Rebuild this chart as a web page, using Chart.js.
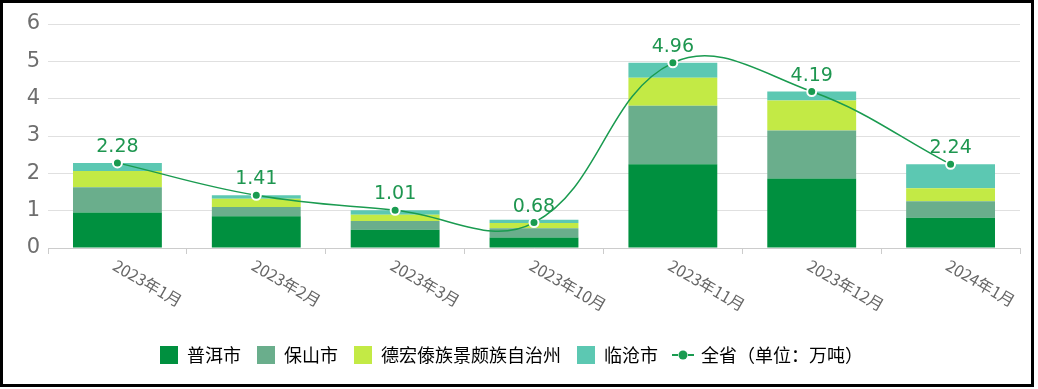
<!DOCTYPE html>
<html>
<head>
<meta charset="utf-8">
<script src="https://cdn.jsdelivr.net/npm/chart.js@4/dist/chart.umd.min.js"></script>
<style>
  html, body { margin: 0; padding: 0; background: #fff; }
  #box {
    position: absolute; left: 0; top: 0;
    width: 1028px; height: 381px;
    border: 3px solid #000;
  }
</style>
</head>
<body>
<div id="box"><canvas id="c" width="1028" height="381"></canvas></div>
<script>
// 月份 + 各州市产量（万吨）
const months = ['2023年1月', '2023年2月', '2023年3月', '2023年10月', '2023年11月', '2023年12月', '2024年1月'];
const puer    = [0.95, 0.85, 0.49, 0.28, 2.24, 1.86, 0.81];
const baoshan = [0.68, 0.25, 0.23, 0.25, 1.57, 1.29, 0.44];
const dehong  = [0.43, 0.22, 0.17, 0.14, 0.75, 0.80, 0.35];
const lincang = [0.22, 0.09, 0.12, 0.09, 0.40, 0.24, 0.64];
const total   = [2.28, 1.41, 1.01, 0.68, 4.96, 4.19, 2.24];
const yMax = 6;
const yStep = 1;

const GREEN_LINE = '#1a9b50';

Chart.defaults.font.family = '"Noto Sans CJK SC", "Noto Sans", sans-serif';
Chart.defaults.animation = false;

// 图例里折线的小图标 -●-
function lineIcon() {
  const c = document.createElement('canvas');
  c.width = 24; c.height = 18;
  const g = c.getContext('2d');
  g.strokeStyle = GREEN_LINE;
  g.lineWidth = 2;
  g.beginPath();
  g.moveTo(1, 9); g.lineTo(7, 9);
  g.moveTo(17, 9); g.lineTo(23, 9);
  g.stroke();
  g.fillStyle = GREEN_LINE;
  g.beginPath();
  g.arc(12, 9, 4.5, 0, Math.PI * 2);
  g.fill();
  return c;
}
const icon = lineIcon();

// 斜着的 x 轴标签（往右下方向）
const xLabelPlugin = {
  id: 'xLabels',
  afterDraw(chart) {
    const { ctx, scales: { x } } = chart;
    ctx.save();
    ctx.font = '16px "Noto Sans CJK SC"';
    ctx.fillStyle = '#666';
    ctx.textAlign = 'left';
    ctx.textBaseline = 'top';
    months.forEach((m, i) => {
      ctx.save();
      ctx.translate(x.getPixelForValue(i) + 1, x.top + 9);
      ctx.rotate(Math.PI / 6);
      ctx.fillText(m, 0, 0);
      ctx.restore();
    });
    ctx.restore();
  }
};

// 折线点上方的数值
const valueLabelPlugin = {
  id: 'valueLabels',
  afterDatasetsDraw(chart) {
    const { ctx } = chart;
    const meta = chart.getDatasetMeta(4);
    ctx.save();
    ctx.font = '19px "DejaVu Sans"';
    ctx.fillStyle = '#1e9650';
    ctx.textAlign = 'center';
    ctx.textBaseline = 'alphabetic';
    meta.data.forEach((p, i) => {
      ctx.fillText(total[i].toFixed(2), p.x, p.y - 11);
    });
    ctx.restore();
  }
};

const barStyle = { stack: 'city', order: 1, barPercentage: 0.64, categoryPercentage: 1, borderWidth: 0 };

new Chart(document.getElementById('c'), {
  type: 'bar',
  data: {
    labels: months,
    datasets: [
      { label: '普洱市', data: puer, backgroundColor: '#00903f', ...barStyle },
      { label: '保山市', data: baoshan, backgroundColor: '#6aae8c', ...barStyle },
      { label: '德宏傣族景颇族自治州', data: dehong, backgroundColor: '#c3ea45', ...barStyle },
      { label: '临沧市', data: lincang, backgroundColor: '#5cc8b2', ...barStyle },
      {
        type: 'line',
        label: '全省（单位：万吨）',
        data: total,
        stack: 'total',
        order: 0,
        borderColor: GREEN_LINE,
        borderWidth: 1.5,
        tension: 0.4,
        pointRadius: 4.5,
        pointBackgroundColor: GREEN_LINE,
        pointBorderColor: '#fff',
        pointBorderWidth: 2,
        fill: false
      }
    ]
  },
  options: {
    responsive: false,
    layout: { padding: { top: 21, right: 11, left: 0, bottom: 10 } },
    plugins: {
      tooltip: { enabled: false },
      legend: {
        position: 'bottom',
        labels: {
          usePointStyle: true,
          pointStyleWidth: 18,
          boxHeight: 18,
          padding: 16,
          color: '#555',
          font: { size: 18 },
          generateLabels: chart => chart.data.datasets.map((ds, i) => ({
            text: ds.label,
            fillStyle: ds.type === 'line' ? GREEN_LINE : ds.backgroundColor,
            strokeStyle: ds.type === 'line' ? GREEN_LINE : ds.backgroundColor,
            lineWidth: 0,
            pointStyle: ds.type === 'line' ? icon : 'rect',
            datasetIndex: i,
            hidden: false
          }))
        }
      }
    },
    scales: {
      x: {
        stacked: true,
        grid: { display: true, drawOnChartArea: false, drawTicks: true, tickLength: 6, color: '#ccc', offset: true },
        border: { color: '#ccc' },
        ticks: { display: false },
        afterFit: s => { s.height = 82; }
      },
      y: {
        stacked: true,
        min: 0,
        max: yMax,
        ticks: { stepSize: yStep, padding: 8, color: '#6e6e6e', font: { family: '"DejaVu Sans"', size: 21 } },
        grid: { color: '#e0e0e0', drawTicks: false },
        border: { display: false },
        afterFit: s => { s.width = 45; }
      }
    }
  },
  plugins: [xLabelPlugin, valueLabelPlugin]
});
</script>
</body>
</html>
